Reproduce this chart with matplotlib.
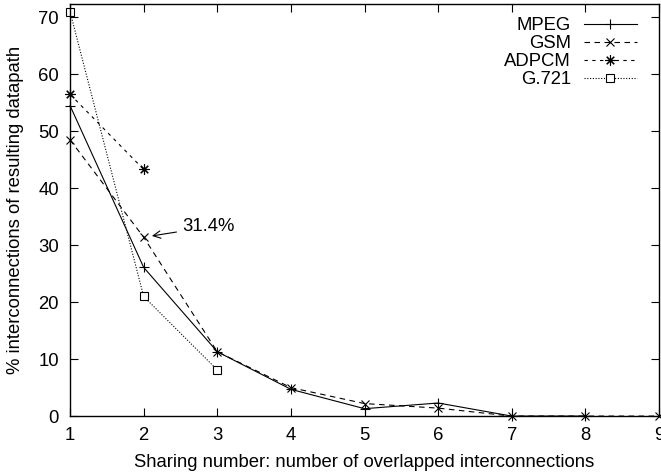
import matplotlib
matplotlib.use("Agg")
import matplotlib.pyplot as plt

plt.rcParams['font.family'] = ['Liberation Sans', 'DejaVu Sans']

# values
mpeg_x = [1, 2, 3, 4, 5, 6, 7, 8]
mpeg_y = [54.5, 26.1, 11.3, 4.7, 1.3, 2.3, 0.0, 0.0]
gsm_x = [1, 2, 3, 4, 5, 6, 7, 8, 9]
gsm_y = [48.5, 31.4, 11.3, 5.0, 2.2, 1.4, 0.0, 0.0, 0.0]
adpcm_x = [1, 2]
adpcm_y = [56.5, 43.3]
g721_x = [1, 2, 3]
g721_y = [71.0, 21.0, 8.1]

x_ticks = [1, 2, 3, 4, 5, 6, 7, 8, 9]
y_ticks = [0, 10, 20, 30, 40, 50, 60, 70]


def plot_sharing():
    fig = plt.figure(figsize=(6.61, 4.75), dpi=100)
    ax = fig.add_axes([0.106, 0.124, 0.891, 0.867])

    lw = 0.8
    fs = 13.3
    ax.plot(mpeg_x, mpeg_y, color='black', linestyle='-', linewidth=lw,
            marker='+', markersize=6.5, markeredgewidth=lw, label='MPEG', clip_on=False)
    ax.plot(gsm_x, gsm_y, color='black', linestyle=(0, (5, 4)), linewidth=lw,
            marker='x', markersize=5.5, markeredgewidth=lw, label='GSM', clip_on=False)
    ax.plot(adpcm_x, adpcm_y, color='black', linestyle=(0, (3, 4)), linewidth=lw,
            marker=(8, 2, 0), markersize=7.5, markeredgewidth=lw, label='ADPCM', clip_on=False)
    ax.plot(g721_x, g721_y, color='black', linestyle=(0, (1, 1.5)), linewidth=lw,
            marker='s', markersize=6, markerfacecolor='white', markeredgewidth=lw,
            label='G.721', clip_on=False)

    # annotation for the GSM point at sharing number 2
    ax.annotate('31.4%', xy=(gsm_x[1], gsm_y[1]), xytext=(2.52, 33.2),
                fontsize=fs, va='center', ha='left',
                arrowprops=dict(arrowstyle='->', color='black', lw=0.8,
                                shrinkA=2, shrinkB=6))

    ax.set_xlim(1, 9)
    ax.set_ylim(0, 72.3)
    ax.set_xticks(x_ticks)
    ax.set_yticks(y_ticks)
    ax.tick_params(direction='in', length=5.5, width=0.8, labelsize=fs,
                   top=True, right=True)
    ax.tick_params(axis='x', pad=8)
    ax.tick_params(axis='y', pad=8)
    for s in ax.spines.values():
        s.set_linewidth(1.0)

    ax.set_xlabel('Sharing number: number of overlapped interconnections', fontsize=fs, labelpad=7)
    ax.set_ylabel('% interconnections of resulting datapath', fontsize=fs, labelpad=10)

    ax.legend(loc='upper right', frameon=False, markerfirst=False, fontsize=fs,
              handlelength=2.9, handletextpad=0.7, labelspacing=0.05,
              borderaxespad=0.3, bbox_to_anchor=(0.985, 1.0))

    fig.savefig('out.png', dpi=100)


if __name__ == "__main__":
    plot_sharing()
